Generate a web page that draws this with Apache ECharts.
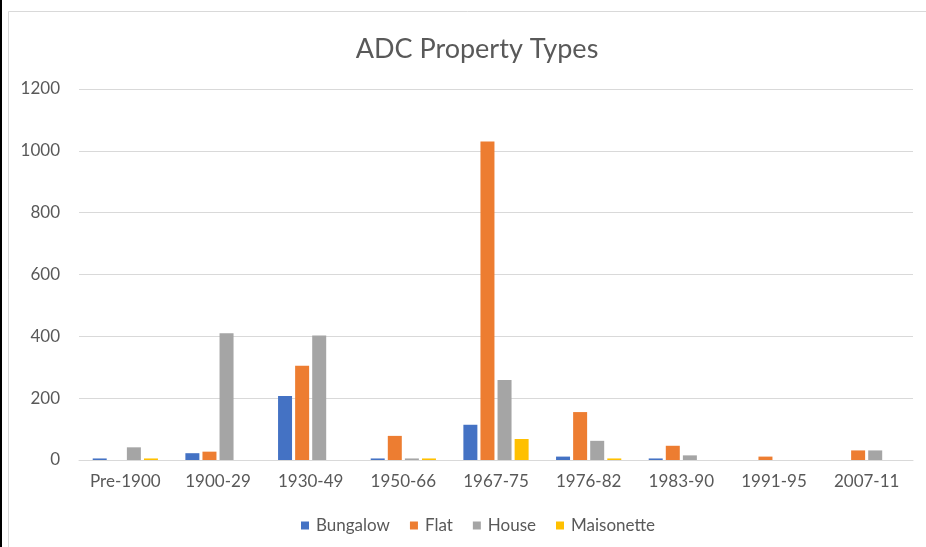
<!DOCTYPE html>
<html>
<head>
<meta charset="utf-8">
<script src="https://cdn.jsdelivr.net/npm/echarts@6/dist/echarts.min.js"></script>
<style>
  html, body { margin: 0; padding: 0; background: #fff; }
  #chart { width: 926px; height: 547px; }
</style>
</head>
<body>
<div id="chart"></div>
<script>
// Construction periods and property counts per type
const categories = ['Pre-1900', '1900-29', '1930-49', '1950-66', '1967-75', '1976-82', '1983-90', '1991-95', '2007-11'];
const bungalow   = [5, 22, 207, 5, 114, 11, 5, 0, 0];
const flat       = [0, 27, 305, 78, 1030, 155, 46, 11, 31];
const house      = [41, 410, 403, 5, 259, 62, 15, 0, 31];
const maisonette = [5, 0, 0, 5, 68, 5, 0, 0, 0];
const yTicks = { min: 0, max: 1200, interval: 200 };

const FONT = 'Lato';
const TEXT = '#595959';
const GRID = '#D9D9D9';

function barSeries(name, data, color) {
  return {
    name: name,
    type: 'bar',
    data: data,
    barWidth: 14,
    barGap: '22%',
    itemStyle: { color: color },
    emphasis: { disabled: true }
  };
}

const chart = echarts.init(document.getElementById('chart'), null, { renderer: 'canvas' });
chart.setOption({
  animation: false,
  backgroundColor: '#fff',
  title: {
    text: 'ADC Property Types',
    left: 472,
    top: 31,
    textAlign: 'center',
    textStyle: { fontFamily: FONT, fontSize: 27, fontWeight: 'normal', color: TEXT }
  },
  legend: {
    left: 296,
    top: 512,
    icon: 'rect',
    itemWidth: 8,
    itemHeight: 8,
    itemGap: 20,
    textStyle: { fontFamily: FONT, fontSize: 17, color: TEXT, padding: [0, 0, 0, 2] },
    data: ['Bungalow', 'Flat', 'House', 'Maisonette']
  },
  grid: { left: 79, right: 13, top: 89, bottom: 87, containLabel: false },
  xAxis: {
    type: 'category',
    data: categories,
    axisLine: { lineStyle: { color: GRID, width: 1 } },
    axisTick: { show: false },
    axisLabel: { fontFamily: FONT, fontSize: 17, color: TEXT, margin: 13 }
  },
  yAxis: {
    type: 'value',
    min: yTicks.min,
    max: yTicks.max,
    interval: yTicks.interval,
    axisLine: { show: false },
    axisTick: { show: false },
    splitLine: { lineStyle: { color: GRID, width: 1 } },
    axisLabel: { fontFamily: FONT, fontSize: 17, color: TEXT, margin: 19, formatter: v => String(v) }
  },
  graphic: [
    { type: 'rect', left: 0, top: 0, shape: { width: 2, height: 547 }, style: { fill: '#000' }, silent: true },
    { type: 'rect', shape: { x: 8.5, y: 11.5, width: 1000, height: 1000 }, style: { fill: 'none', stroke: GRID, lineWidth: 1 }, silent: true }
  ],
  series: [
    barSeries('Bungalow', bungalow, '#4472C4'),
    barSeries('Flat', flat, '#ED7D31'),
    barSeries('House', house, '#A5A5A5'),
    barSeries('Maisonette', maisonette, '#FFC000')
  ]
});
</script>
</body>
</html>
